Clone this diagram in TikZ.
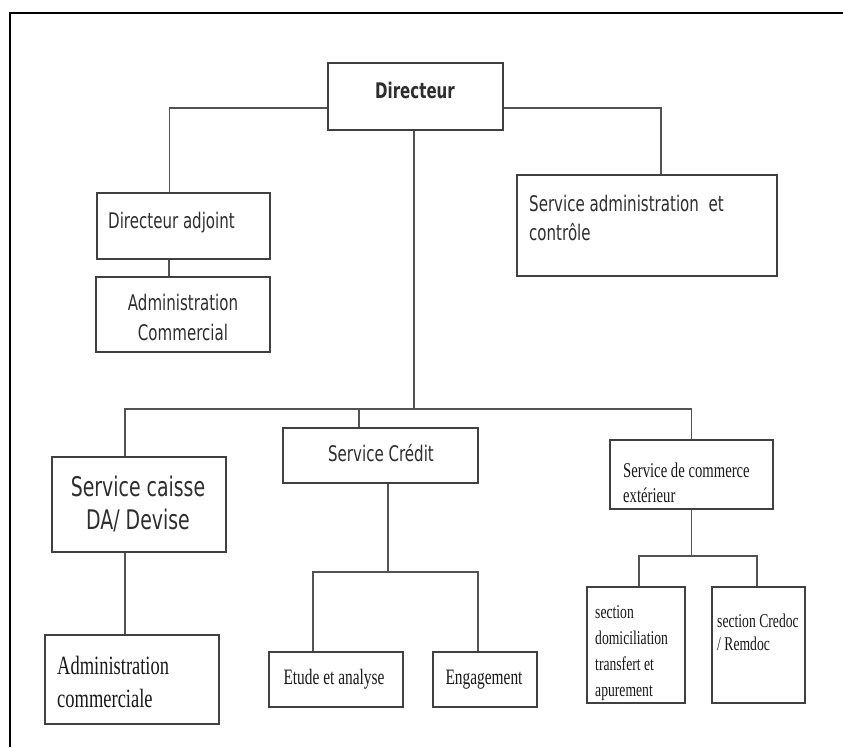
\documentclass[tikz,border=0pt]{standalone}
\usepackage{fontspec}
\newfontfamily\orgsans{DejaVu Sans}[FakeStretch=0.7]
\newfontfamily\orgserif{Liberation Serif}[FakeStretch=0.7]
\tikzset{
  orgbox/.style={draw=black!75,line width=2.2pt,inner sep=0pt},
  orgline/.style={draw=black!68,line width=1.9pt},
  sanstxt/.style={inner sep=0pt,text=black!82,font=\orgsans\fontsize{21.5}{29}\selectfont},
  seriftxt/.style={inner sep=0pt,text=black!90,font=\orgserif\fontsize{22}{25}\selectfont},
}

\begin{document}
\begin{tikzpicture}[x=1pt,y=-1pt]
    \useasboundingbox (0,0) rectangle (843,747);
    \draw[line width=1.8pt] (843,13) -- (10,13) -- (10,747);

    % top level
    \node[orgbox,minimum width=175,minimum height=67] (dir) at (415.5,96.5) {};
    \node[orgbox,minimum width=173,minimum height=66] (adjoint) at (183.5,226) {};
    \node[orgbox,minimum width=174,minimum height=75] (admcom) at (183,314.5) {};
    \node[orgbox,minimum width=260,minimum height=101] (sac) at (647,225.5) {};

    % services
    \node[orgbox,minimum width=174,minimum height=95] (caisse) at (139,504.5) {};
    \node[orgbox,minimum width=195,minimum height=55] (credit) at (380.5,455.5) {};
    \node[orgbox,minimum width=163,minimum height=69] (commerce) at (691.5,474.5) {};

    % sections
    \node[orgbox,minimum width=174,minimum height=89] (admc) at (132,679.5) {};
    \node[orgbox,minimum width=134,minimum height=55] (etude) at (336,679.5) {};
    \node[orgbox,minimum width=104,minimum height=55] (engag) at (485,679.5) {};
    \node[orgbox,minimum width=98,minimum height=116] (domic) at (636,645) {};
    \node[orgbox,minimum width=93,minimum height=116] (credoc) at (758.5,645) {};

    % texts (multi-line ones sit on their last line)
    \node[sanstxt,anchor=base,font=\orgsans\bfseries\fontsize{21.5}{29}\selectfont] (dirtxt) at (415,98) {Directeur};
    \node[sanstxt,anchor=base west] (adjointtxt) at (108,228) {Directeur adjoint};
    \node[sanstxt,anchor=base,align=center,font=\orgsans\fontsize{21.5}{30}\selectfont] (admcomtxt) at (183,340) {Administration\\Commercial};
    \node[sanstxt,anchor=base west,align=left] (sactxt) at (529,240) {Service administration\ \ et\\contr\^ole};
    \node[sanstxt,anchor=base,align=center,font=\orgsans\fontsize{27}{33}\selectfont] (caissetxt) at (138,529) {Service caisse\\DA/ Devise};
    \node[sanstxt,anchor=base] (credittxt) at (381,461) {Service Cr\'edit};
    \node[seriftxt,anchor=base west,align=left,font=\orgserif\fontsize{21}{25}\selectfont] (commercetxt) at (623,502) {Service de commerce\\ext\'erieur};
    \node[seriftxt,anchor=base west,align=left,font=\orgserif\fontsize{26.4}{33}\selectfont] (admctxt) at (57,707) {Administration\\commerciale};
    \node[seriftxt,anchor=base] (etudetxt) at (334,684) {Etude et analyse};
    \node[seriftxt,anchor=base] (engagtxt) at (484,684) {Engagement};
    \node[seriftxt,anchor=base west,align=left,font=\orgserif\fontsize{19.5}{26}\selectfont] (domictxt) at (595,696) {section\\domiciliation\\transfert et\\apurement};
    \node[seriftxt,anchor=base west,align=left,font=\orgserif\fontsize{19.5}{23}\selectfont] (credoctxt) at (717,650) {section Credoc\\/ Remdoc};

    % connectors
    \coordinate (bus) at (414,409);
    \coordinate (cfork) at (388,572);
    \coordinate (efork) at (692,556);
    \draw[orgline] ([yshift=-11.5]dir.west) -| ([xshift=-14]adjoint.north);
    \draw[orgline] ([yshift=-11.5]dir.east) -| ([xshift=14]sac.north);
    \draw[orgline] ([xshift=-14.5]adjoint.south) -- ([xshift=-14]admcom.north);
    \draw[orgline] (bus |- dir.south) -- (bus);
    \draw[orgline] (bus) -| ([xshift=-14]caisse.north);
    \draw[orgline] (bus) -| ([xshift=-21.5]credit.north);
    \draw[orgline] (bus) -| (commerce.north);
    \draw[orgline] ([xshift=-14]caisse.south) -- ([xshift=-7]admc.north);
    \draw[orgline] ([xshift=7.5]credit.south) -- (cfork);
    \draw[orgline] (cfork) -| ([xshift=-23]etude.north);
    \draw[orgline] (cfork) -| ([xshift=-7]engag.north);
    \draw[orgline] (efork -| commerce.south) -- (commerce.south);
    \draw[orgline] (efork) -| ([xshift=3]domic.north);
    \draw[orgline] (efork) -| ([xshift=-1.5]credoc.north);
\end{tikzpicture}
\end{document}
